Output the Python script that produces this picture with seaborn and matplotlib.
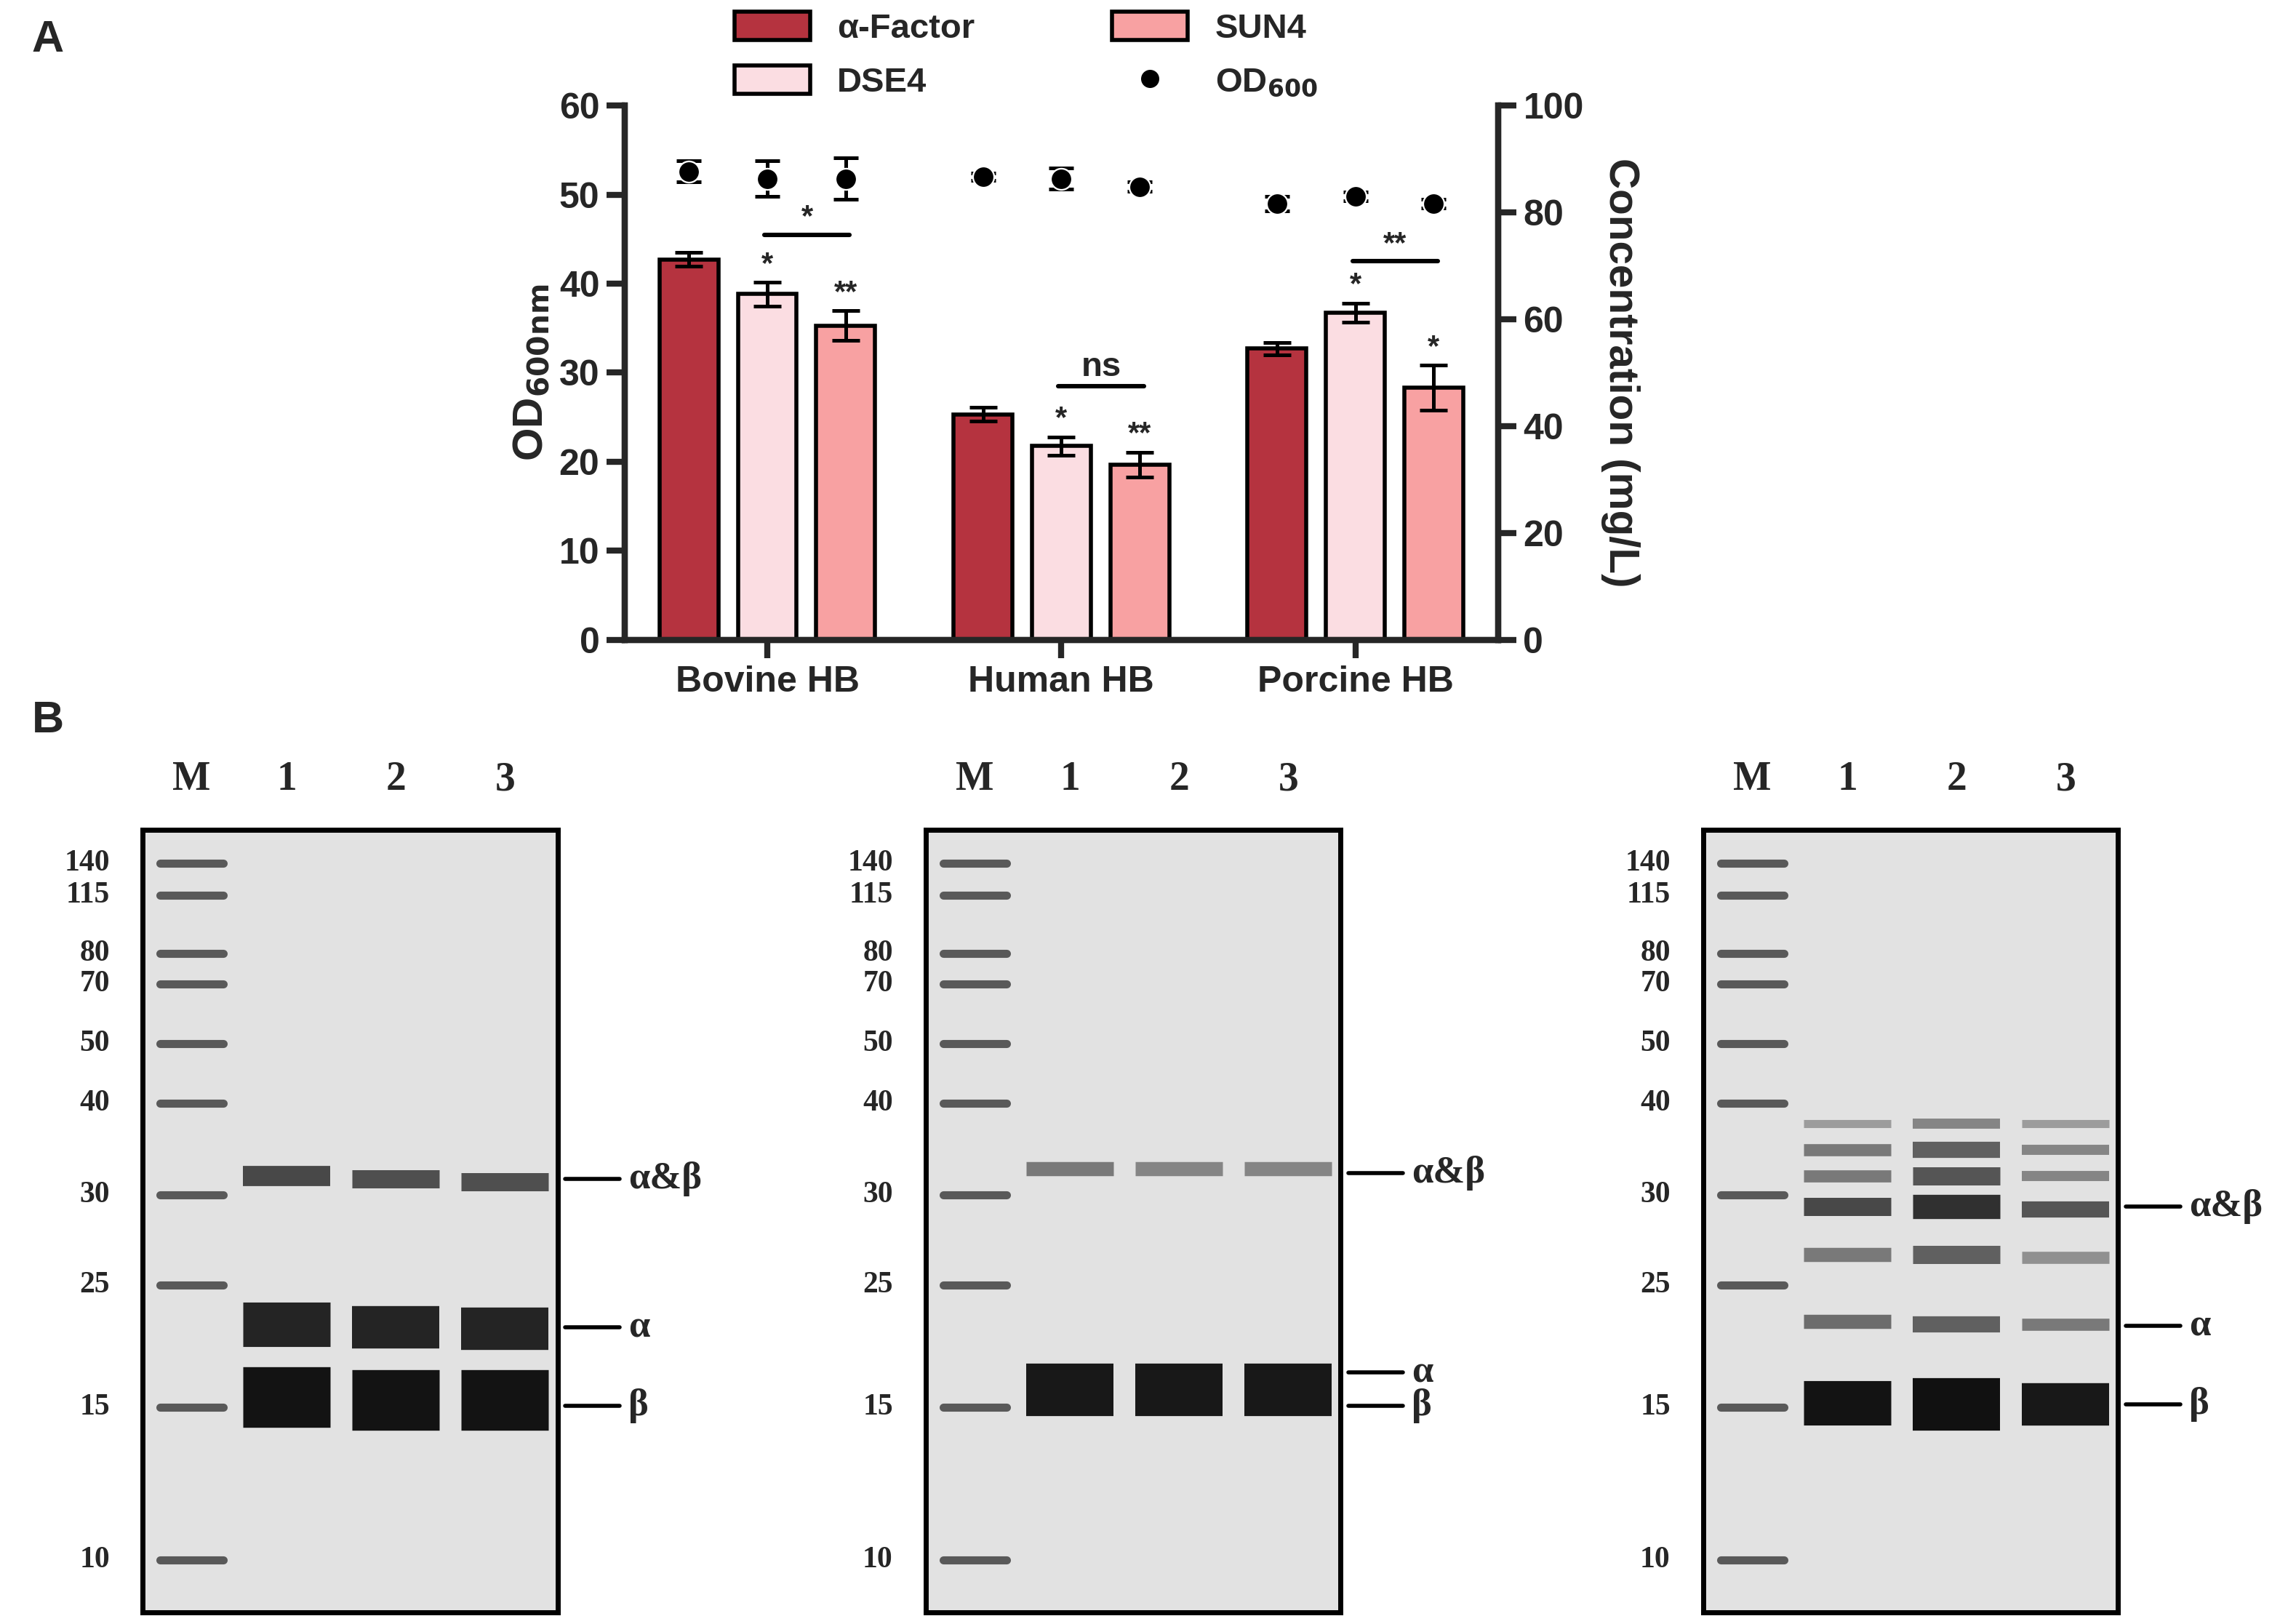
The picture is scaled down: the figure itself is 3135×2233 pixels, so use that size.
import matplotlib
matplotlib.use("Agg")
import matplotlib.pyplot as plt
import seaborn as sns
import pandas as pd
import numpy as np
from matplotlib.patches import Patch
from matplotlib.lines import Line2D

sns.set_style("white")
plt.rcParams['font.family'] = ['Liberation Sans', 'DejaVu Sans']

# ---------------- data ----------------
groups = ["Bovine HB", "Human HB", "Porcine HB"]
strains = ["α-Factor", "DSE4", "SUN4"]
conc = [[71.2, 64.7, 58.8], [42.2, 36.3, 32.8], [54.5, 61.2, 47.2]]
conc_err = [[1.3, 2.2, 2.8], [1.3, 1.7, 2.3], [1.2, 1.8, 4.2]]
od = [[52.6, 51.8, 51.8], [52.0, 51.8, 50.9], [49.0, 49.8, 49.0]]
od_err = [[1.2, 2.0, 2.3], [0.4, 1.2, 0.5], [0.8, 0.5, 0.5]]
bar_stars = [["", "*", "**"], ["", "*", "**"], ["", "*", "*"]]
brackets = [(0, "*", 45.5), (1, "ns", 28.5), (2, "**", 42.5)]
colors = ["#B5333F", "#FBDDE2", "#F8A1A2"]

marker_kda = ["140", "115", "80", "70", "50", "40", "30", "25", "15", "10"]
marker_pos = [593, 615, 655, 676, 717, 758, 821, 883, 967, 1072]
lane_labels = ["M", "1", "2", "3"]
lane_x = [0, 0.87, 1.87, 2.87]
# gel bands: (lane, y, linewidth_pt, gray level)
gel_bands = [
    [(1, 808, 10, 0.25), (2, 810, 9, 0.28), (3, 812, 9, 0.28),
     (1, 910, 22, 0.1), (2, 912, 21, 0.1), (3, 913, 21, 0.1),
     (1, 960, 30, 0.03), (2, 962, 30, 0.03), (3, 962, 30, 0.03)],
    [(1, 803, 7, 0.45), (2, 803, 7, 0.5), (3, 803, 7, 0.5),
     (1, 955, 26, 0.05), (2, 955, 26, 0.05), (3, 955, 26, 0.05)],
    [(1, 772, 4, 0.6), (2, 772, 5, 0.5), (3, 772, 4, 0.6),
     (1, 790, 6, 0.45), (2, 790, 8, 0.35), (3, 790, 5, 0.5),
     (1, 808, 6, 0.45), (2, 808, 9, 0.3), (3, 808, 5, 0.5),
     (1, 829, 9, 0.25), (2, 829, 12, 0.15), (3, 831, 8, 0.3),
     (1, 862, 7, 0.45), (2, 862, 9, 0.35), (3, 864, 6, 0.55),
     (1, 908, 7, 0.4), (2, 910, 8, 0.35), (3, 910, 6, 0.45),
     (1, 964, 22, 0.03), (2, 965, 26, 0.02), (3, 965, 21, 0.05)],
]
gel_marks = [
    [("α&β", 810), ("α", 912), ("β", 966)],
    [("α&β", 806), ("α", 943), ("β", 966)],
    [("α&β", 829), ("α", 911), ("β", 965)],
]

# ---------------- figure ----------------
fig = plt.figure(figsize=(15.675, 11.165), dpi=200)

ax = fig.add_axes([0.274, 0.606, 0.383, 0.329])
ax2 = ax.twinx()

df = pd.DataFrame([(g, s, conc[i][j]) for i, g in enumerate(groups) for j, s in enumerate(strains)],
                  columns=["group", "strain", "conc"])
sns.barplot(data=df, x="group", y="conc", hue="strain", palette=colors, ax=ax2, saturation=1,
            width=0.8, gap=0.25, errorbar=None, edgecolor="black", linewidth=2, legend=False)
offs = [-0.2667, 0, 0.2667]
for i in range(3):
    for j in range(3):
        x = i + offs[j]
        ax2.errorbar(x, conc[i][j], yerr=conc_err[i][j], color="black", capsize=7, lw=1.8, capthick=1.8)
        if bar_stars[i][j]:
            ax2.text(x, conc[i][j] + conc_err[i][j] + 0.6, bar_stars[i][j], ha="center", va="bottom",
                     fontsize=15, fontweight="bold")
ptdf = pd.DataFrame([(i + offs[j], od[i][j]) for i in range(3) for j in range(3)], columns=["x", "od"])
sns.scatterplot(data=ptdf, x="x", y="od", ax=ax, color="black", s=110, zorder=5, legend=False)
for i in range(3):
    for j in range(3):
        ax.errorbar(i + offs[j], od[i][j], yerr=od_err[i][j], color="black", capsize=6, lw=1.8, capthick=1.8)
for gi, lab, y in brackets:
    ax.plot([gi - 0.01, gi + 0.28], [y, y], color="black", lw=2.2)
    ax.text(gi + 0.135, y + 0.3, lab, ha="center", va="bottom", fontsize=17 if lab == "ns" else 15,
            fontweight="bold")

ax.set_zorder(ax2.get_zorder() + 1)
ax.patch.set_visible(False)
ax.set_xlim(-0.485, 2.485)
ax.set_ylim(0, 60)
ax2.set_ylim(0, 100)
ax.set_yticks(range(0, 61, 10))
ax2.set_yticks(range(0, 101, 20))
ax.set_xticks([0, 1, 2])
ax.set_xticklabels(groups, fontsize=18, fontweight="bold")
ax2.set_xlabel("")
ax.set_xlabel("")
for a in (ax, ax2):
    a.tick_params(axis="y", labelsize=18, width=3, length=9, direction="out")
    for lab in a.get_yticklabels():
        lab.set_fontweight("bold")
    for s in a.spines.values():
        s.set_linewidth(3)
    a.spines["top"].set_visible(False)
ax.tick_params(axis="x", width=3, length=9, direction="out", bottom=True)
ax2.tick_params(axis="x", bottom=False, labelbottom=False)
ax.set_ylabel("OD$_{\\mathbf{600nm}}$", fontsize=21, fontweight="bold")
ax2.set_ylabel("Concentration (mg/L)", fontsize=21, fontweight="bold", rotation=270, labelpad=28)

handles = [Patch(facecolor=colors[0], edgecolor="black", lw=2, label="α-Factor"),
           Patch(facecolor=colors[1], edgecolor="black", lw=2, label="DSE4"),
           Patch(facecolor=colors[2], edgecolor="black", lw=2, label="SUN4"),
           Line2D([], [], marker="o", ls="", color="black", markersize=8, label="OD$_{\\mathbf{600}}$")]
fig.legend(handles=handles, ncol=2, loc="upper center", bbox_to_anchor=(0.45, 1.012), frameon=False,
           prop={"size": 17, "weight": "bold"}, columnspacing=4, handlelength=2.2, handleheight=0.9,
           labelspacing=0.6)

fig.text(0.014, 0.975, "A", fontsize=22, fontweight="bold", va="center")
fig.text(0.014, 0.556, "B", fontsize=22, fontweight="bold", va="center")

# ---------------- gels ----------------
gel_lefts = [0.0625, 0.406, 0.747]
serif = ["Liberation Serif", "DejaVu Serif"]
for k in range(3):
    g = fig.add_axes([gel_lefts[k], 0.007, 0.182, 0.482])
    g.set_facecolor("#e2e2e2")
    g.set_xlim(-0.45, 3.35)
    g.set_ylim(1108, 570)
    g.set_xticks([]); g.set_yticks([])
    for s in g.spines.values():
        s.set_linewidth(2.5)
        s.set_color("black")
    for y in marker_pos:
        g.plot([-0.29, 0.29], [y, y], color="0.35", lw=4, solid_capstyle="round")
    for lane, y, lw, gray in gel_bands[k]:
        x = lane_x[lane]
        g.plot([x - 0.4, x + 0.4], [y, y], color=str(gray), lw=lw, solid_capstyle="butt", alpha=0.95)
    for lab, y in zip(marker_kda, marker_pos):
        g.text(-0.75, y, lab, ha="right", va="center", fontsize=15, fontweight="bold", family=serif)
    for i, lab in enumerate(lane_labels):
        g.text(lane_x[i], 1.04, lab, transform=g.get_xaxis_transform(), ha="center", va="bottom",
               fontsize=20, fontweight="bold", family=serif)
    for lab, y in gel_marks[k]:
        g.plot([3.42, 3.92], [y, y], color="black", lw=2, clip_on=False)
        g.text(4.0, y, lab, ha="left", va="center", fontsize=19, fontweight="bold", family=serif)

fig.savefig("out.png", dpi=200)
